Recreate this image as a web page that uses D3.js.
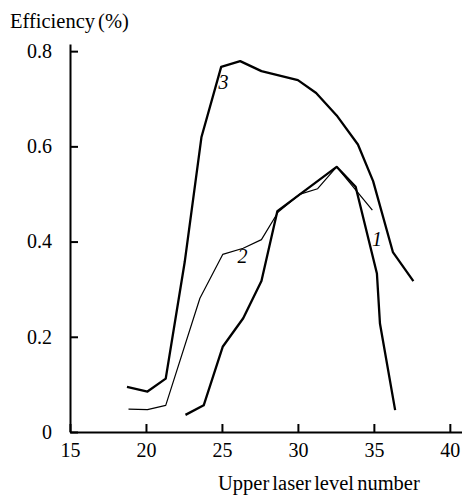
<!DOCTYPE html>
<html>
<head>
<meta charset="utf-8">
<script src="https://cdn.jsdelivr.net/npm/d3@7"></script>
<style>
  body { margin: 0; background: #fff; }
  text { font-family: "Liberation Serif", "Times New Roman", serif; fill: #000; }
</style>
</head>
<body>
<svg id="chart"></svg>
<script>
// curve values
const curve1_x = [22.6, 23.8, 25.05, 26.4, 27.6, 28.65, 32.55, 33.8, 35.2, 35.4, 36.4];
const curve1_y = [0.036, 0.056, 0.179, 0.239, 0.317, 0.464, 0.557, 0.515, 0.333, 0.228, 0.046];

const curve2_x = [18.85, 20.1, 21.3, 23.55, 25.05, 26.4, 27.6, 28.7, 30.1, 31.3, 32.55, 34.9];
const curve2_y = [0.048, 0.047, 0.056, 0.281, 0.373, 0.386, 0.404, 0.462, 0.499, 0.511, 0.557, 0.466];

const curve3_x = [18.75, 20.1, 21.3, 22.55, 23.65, 24.95, 26.2, 27.6, 30.0, 31.2, 32.55, 33.95, 34.95, 36.25, 37.6];
const curve3_y = [0.095, 0.085, 0.112, 0.357, 0.619, 0.767, 0.779, 0.758, 0.739, 0.712, 0.665, 0.604, 0.527, 0.378, 0.317];

const xTicks = [15, 20, 25, 30, 35, 40];
const yTicks = [0, 0.2, 0.4, 0.6, 0.8];

const yTitle = "Efficiency (%)";
const xTitle = "Upper laser level number";

const width = 462, height = 499;
const svg = d3.select("#chart").attr("width", width).attr("height", height);

const x = d3.scaleLinear().domain([15, 40.8]).range([70, 462]);
const y = d3.scaleLinear().domain([0, 0.815]).range([432, 44]);

const fmtY = d => d === 0 ? "0" : d3.format(".1f")(d);

const xAxis = svg.append("g")
  .attr("transform", `translate(0,${y(0)})`)
  .call(d3.axisBottom(x).tickValues(xTicks).tickSizeInner(-8).tickSizeOuter(0).tickPadding(11));
const yAxis = svg.append("g")
  .attr("transform", `translate(${x(15)},0)`)
  .call(d3.axisLeft(y).tickValues(yTicks).tickFormat(fmtY).tickSizeInner(-8).tickSizeOuter(0).tickPadding(18));

[xAxis, yAxis].forEach(a => {
  a.attr("font-family", null).attr("font-size", null);
  a.select(".domain").attr("stroke", "#000").attr("stroke-width", 2);
  a.selectAll(".tick line").attr("stroke", "#000").attr("stroke-width", 2);
  a.selectAll(".tick text")
    .style("font-size", "20px")
    .attr("fill", "#000");
});

const line = d3.line().x(d => x(d[0])).y(d => y(d[1]));
const series = [
  {xs: curve1_x, ys: curve1_y, w: 2.3, label: "1", lx: 35.2, ly: 0.39},
  {xs: curve2_x, ys: curve2_y, w: 1.2, label: "2", lx: 26.35, ly: 0.355},
  {xs: curve3_x, ys: curve3_y, w: 2.3, label: "3", lx: 25.1, ly: 0.72}
];

svg.append("g").selectAll("path")
  .data(series)
  .join("path")
  .attr("d", s => line(d3.zip(s.xs, s.ys)))
  .attr("fill", "none")
  .attr("stroke", "#000")
  .attr("stroke-width", s => s.w)
  .attr("stroke-linejoin", "round");

svg.append("g").selectAll("text")
  .data(series)
  .join("text")
  .attr("x", s => x(s.lx))
  .attr("y", s => y(s.ly))
  .attr("text-anchor", "middle")
  .attr("font-style", "italic")
  .attr("font-size", 20)
  .text(s => s.label);

svg.append("text")
  .attr("x", 10)
  .attr("y", 28)
  .attr("font-size", 20.5)
  .attr("word-spacing", -2)
  .text(yTitle);

svg.append("text")
  .attr("x", 218)
  .attr("y", 490)
  .attr("font-size", 20.5)
  .attr("word-spacing", -2)
  .text(xTitle);
</script>
</body>
</html>
